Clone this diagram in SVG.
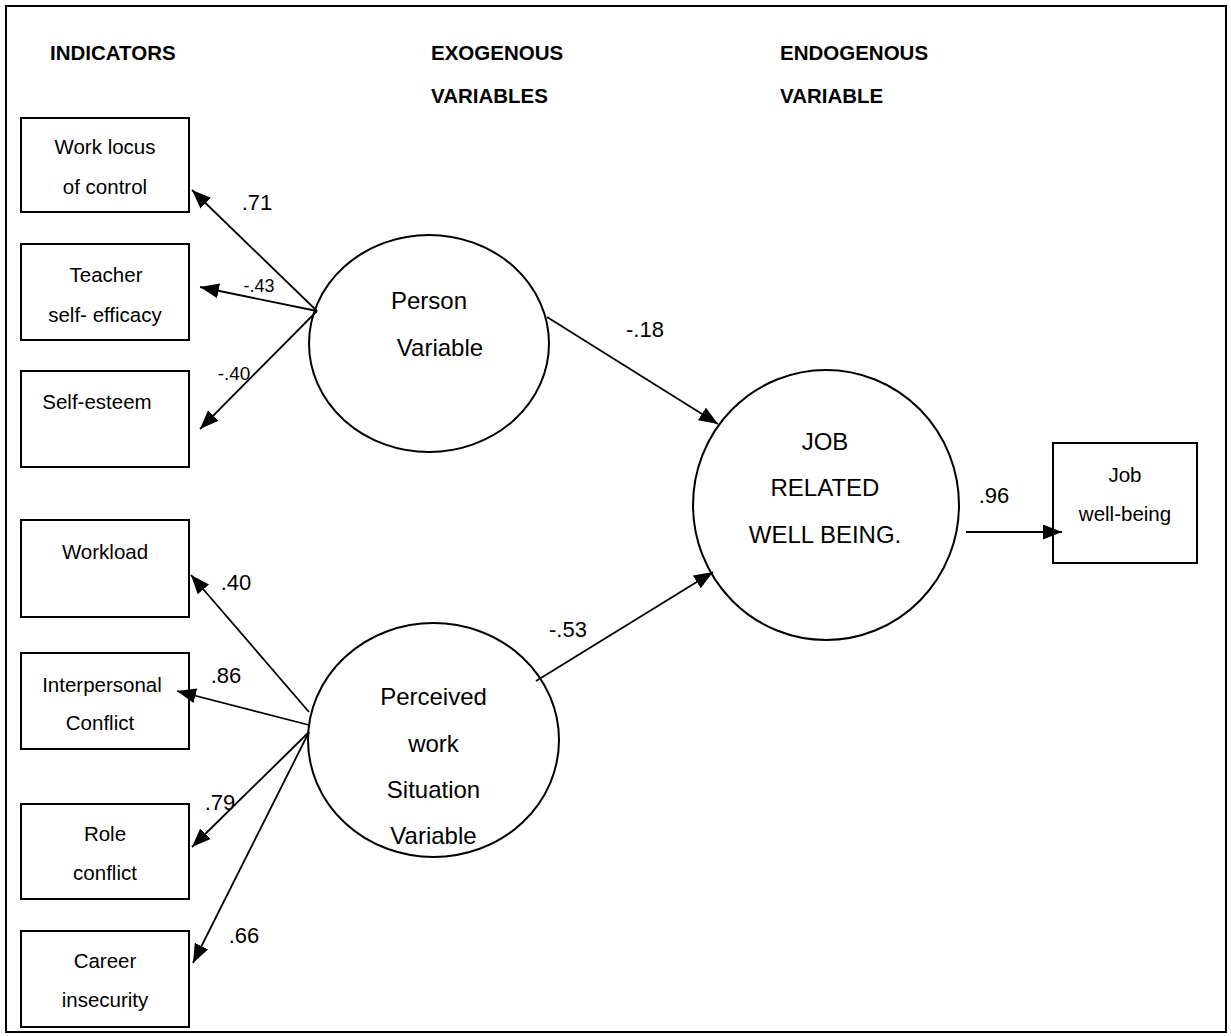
<svg xmlns="http://www.w3.org/2000/svg" width="1231" height="1036" viewBox="0 0 1231 1036">
<defs>
<marker id="ah" markerUnits="userSpaceOnUse" markerWidth="20" markerHeight="16" refX="19" refY="7.5" orient="auto">
<path d="M0,0 L19,7.5 L0,15 z" fill="#000"/>
</marker>
<style>
.box{fill:#fff;stroke:#000;stroke-width:2}
.lat{fill:#fff;stroke:#000;stroke-width:2}
.t{font-family:"Liberation Sans",Arial,sans-serif;font-size:20.5px;fill:#000;text-anchor:middle}
.c{font-family:"Liberation Sans",Arial,sans-serif;font-size:24px;fill:#000;text-anchor:middle}
.h{font-family:"Liberation Sans",Arial,sans-serif;font-size:20.5px;font-weight:bold;fill:#000}
.n{font-family:"Liberation Sans",Arial,sans-serif;font-size:22px;fill:#000;text-anchor:middle}
.e{stroke:#000;stroke-width:1.8;fill:none;marker-end:url(#ah)}
</style>
</defs>
<rect x="6" y="6" width="1220" height="1026" fill="#fff" stroke="#000" stroke-width="2"/>
<g id="headers">
<text class="h" x="50" y="60">INDICATORS</text>
<text class="h" x="431" y="60">EXOGENOUS</text>
<text class="h" x="431" y="103">VARIABLES</text>
<text class="h" x="780" y="60">ENDOGENOUS</text>
<text class="h" x="780" y="103">VARIABLE</text>
</g>
<g id="work-locus"><rect class="box" x="21" y="118" width="168" height="94"/><text class="t" x="105" y="154">Work locus</text><text class="t" x="105" y="194">of control</text></g>
<g id="teacher-self-efficacy"><rect class="box" x="21" y="244" width="168" height="96"/><text class="t" x="106" y="282">Teacher</text><text class="t" x="105" y="322">self- efficacy</text></g>
<g id="self-esteem"><rect class="box" x="21" y="371" width="168" height="96"/><text class="t" x="97" y="409">Self-esteem</text></g>
<g id="workload"><rect class="box" x="21" y="520" width="168" height="97"/><text class="t" x="105" y="559">Workload</text></g>
<g id="interpersonal-conflict"><rect class="box" x="21" y="653" width="168" height="96"/><text class="t" x="102" y="692">Interpersonal</text><text class="t" x="100" y="730">Conflict</text></g>
<g id="role-conflict"><rect class="box" x="21" y="804" width="168" height="95"/><text class="t" x="105" y="841">Role</text><text class="t" x="105" y="880">conflict</text></g>
<g id="career-insecurity"><rect class="box" x="21" y="931" width="168" height="96"/><text class="t" x="105" y="968">Career</text><text class="t" x="105" y="1007">insecurity</text></g>
<g id="job-well-being"><rect class="box" x="1053" y="443" width="144" height="120"/><text class="t" x="1125" y="482">Job</text><text class="t" x="1125" y="521">well-being</text></g>
<g id="person-variable"><ellipse class="lat" cx="429" cy="343.5" rx="120" ry="108.5"/><text class="c" x="429" y="309">Person</text><text class="c" x="440" y="356">Variable</text></g>
<g id="perceived-work-situation"><ellipse class="lat" cx="433.5" cy="740" rx="125.5" ry="117"/><text class="c" x="433.5" y="705">Perceived</text><text class="c" x="433.5" y="752">work</text><text class="c" x="433.5" y="798">Situation</text><text class="c" x="433.5" y="844">Variable</text></g>
<g id="job-related-well-being"><ellipse class="lat" cx="826" cy="505" rx="133" ry="135"/><text class="c" x="825" y="450">JOB</text><text class="c" x="825" y="496">RELATED</text><text class="c" x="825" y="543">WELL BEING.</text></g>
<g id="connectors">
<line class="e" x1="317" y1="311" x2="192" y2="190"/>
<line class="e" x1="317" y1="311" x2="200" y2="287"/>
<line class="e" x1="317" y1="311" x2="200" y2="429"/>
<line class="e" x1="309" y1="712" x2="191" y2="575"/>
<line class="e" x1="309" y1="725" x2="177" y2="691"/>
<line class="e" x1="309" y1="732" x2="192" y2="847"/>
<line class="e" x1="309" y1="732" x2="193" y2="963"/>
<line class="e" x1="547" y1="317" x2="718" y2="424"/>
<line class="e" x1="536" y1="681" x2="713" y2="572"/>
<line class="e" x1="966" y1="532" x2="1062" y2="532"/>
</g>
<g id="labels">
<text class="n" x="257" y="210">.71</text>
<text class="n" x="259" y="292" style="font-size:18px">-.43</text>
<text class="n" x="234" y="380" style="font-size:19px">-.40</text>
<text class="n" x="645" y="337">-.18</text>
<text class="n" x="994" y="503">.96</text>
<text class="n" x="568" y="637">-.53</text>
<text class="n" x="236" y="590">.40</text>
<text class="n" x="226" y="683">.86</text>
<text class="n" x="220" y="810">.79</text>
<text class="n" x="244" y="943">.66</text>
</g>
</svg>
